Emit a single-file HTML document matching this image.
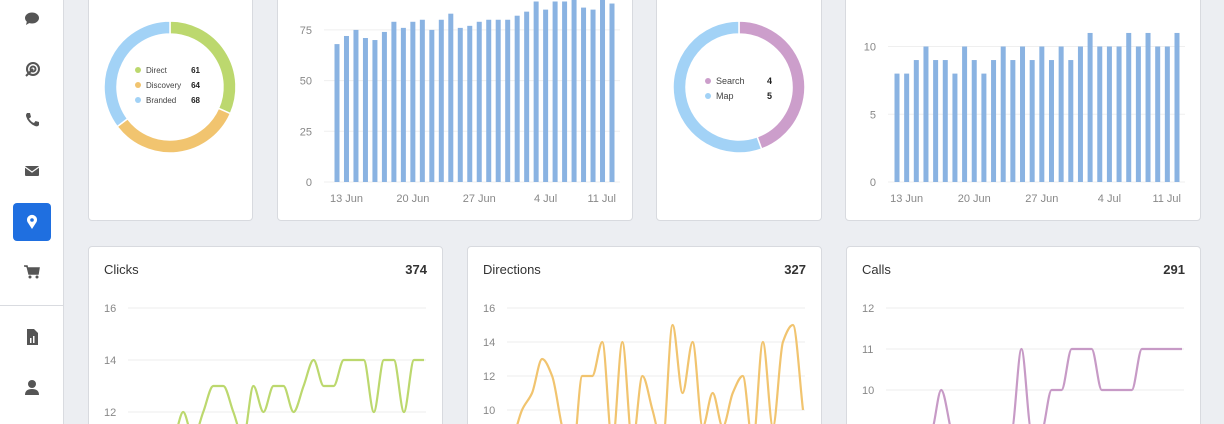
<!DOCTYPE html>
<html><head><meta charset="utf-8">
<style>
html,body{margin:0;padding:0;width:1224px;height:424px;overflow:hidden}
body{background:#eceef2;font-family:"Liberation Sans",sans-serif}
#wrap{position:relative;width:1224px;height:424px;overflow:hidden;background:#eceef2}
.side{position:absolute;left:0;top:0;width:63px;height:424px;background:#fff;border-right:1px solid #d9dbe0}
.card{position:absolute;background:#fff;border:1px solid #d8dadf;border-radius:4px;box-sizing:border-box}
.ico{position:absolute;left:22px;width:20px;height:20px}
svg{position:absolute;left:0;top:0}
</style></head><body>
<div id="wrap">
<div class="side">
  <svg class="ico" style="top:8px" viewBox="0 0 20 20"><ellipse cx="10" cy="10" rx="7" ry="5.5" fill="#555"/><path d="M5 13 L4 17 L9 14Z" fill="#555"/></svg>
  <svg class="ico" style="top:60px" viewBox="0 0 20 20"><circle cx="11" cy="9" r="6" fill="none" stroke="#555" stroke-width="2"/><circle cx="11" cy="9" r="2.5" fill="none" stroke="#555" stroke-width="2"/><path d="M11 9 L4 16" stroke="#555" stroke-width="2"/></svg>
  <svg class="ico" style="top:110px" viewBox="0 0 20 20"><path d="M5 3 L8 3 L9 7 L7 8.5 Q9 12 12 13 L13.5 11 L17 12 L17 15 Q16 17 13 16 Q6 13 4 6 Q4 4 5 3Z" fill="#555"/></svg>
  <svg class="ico" style="top:161px" viewBox="0 0 20 20"><rect x="3" y="5" width="14" height="10" rx="1" fill="#555"/><path d="M3 6 L10 11 L17 6" stroke="#fff" stroke-width="1.2" fill="none"/></svg>
  <div style="position:absolute;left:13px;top:203px;width:38px;height:38px;background:#1f6fe0;border-radius:4px"><svg style="left:11px;top:11px" width="16" height="16" viewBox="0 0 16 16"><path d="M8 15 L3.5 8 A5 5 0 1 1 12.5 8Z" fill="#fff"/><circle cx="8" cy="6" r="1.8" fill="#1f6fe0"/></svg></div>
  <svg class="ico" style="top:262px" viewBox="0 0 20 20"><path d="M2 4 L5 4 L7 12 L16 12 L17 6 L6 6" fill="#555" stroke="#555" stroke-width="1.5"/><circle cx="8" cy="15" r="1.5" fill="#555"/><circle cx="15" cy="15" r="1.5" fill="#555"/></svg>
  <div style="position:absolute;left:0;top:305px;width:63px;height:1px;background:#d9dbe0"></div>
  <svg class="ico" style="top:327px" viewBox="0 0 20 20"><path d="M5 2 L12 2 L16 6 L16 18 L5 18Z" fill="#555"/><rect x="8" y="11" width="1.5" height="5" fill="#fff"/><rect x="11" y="9" width="1.5" height="7" fill="#fff"/></svg>
  <svg class="ico" style="top:377px" viewBox="0 0 20 20"><circle cx="10" cy="7" r="4" fill="#555"/><path d="M3 18 Q3 12 10 12 Q17 12 17 18Z" fill="#555"/></svg>
</div>
<div class="card" style="left:88px;top:-6px;width:165px;height:227px"></div>
<div class="card" style="left:277px;top:-6px;width:356px;height:227px"></div>
<div class="card" style="left:656px;top:-6px;width:166px;height:227px"></div>
<div class="card" style="left:845px;top:-6px;width:356px;height:227px"></div>
<div class="card" style="left:88px;top:246px;width:355px;height:190px"></div>
<div class="card" style="left:467px;top:246px;width:355px;height:190px"></div>
<div class="card" style="left:846px;top:246px;width:355px;height:190px"></div>
<svg id="c" width="1224" height="424"></svg>
</div>
<script>
const donut1Labels=["Direct","Discovery","Branded"];
const donut1Values=[61,64,68];
const donut2Labels=["Search","Map"];
const donut2Values=[4,5];
const barDates=["12 Jun","13 Jun","14 Jun","15 Jun","16 Jun","17 Jun","18 Jun","19 Jun","20 Jun","21 Jun","22 Jun","23 Jun","24 Jun","25 Jun","26 Jun","27 Jun","28 Jun","29 Jun","30 Jun","1 Jul","2 Jul","3 Jul","4 Jul","5 Jul","6 Jul","7 Jul","8 Jul","9 Jul","10 Jul","11 Jul"];
const barTickLabels=["13 Jun","20 Jun","27 Jun","4 Jul","11 Jul"];
const bar1Values=[68,72,75,71,70,74,79,76,79,80,75,80,83,76,77,79,80,80,80,82,84,89,85,89,89,90,86,85,90,88];
const bar1Ticks=[0,25,50,75];
const bar2Values=[8,8,9,10,9,9,8,10,9,8,9,10,9,10,9,10,9,10,9,10,11,10,10,10,11,10,11,10,10,11];
const bar2Ticks=[0,5,10];
const clicksValues=[10,11,10,11,11,12,11,12,13,13,12,11,13,12,13,13,12,13,14,13,13,14,14,14,12,14,14,12,14,14];
const clicksTicks=[12,14,16];
const directionsValues=[8,10,11,13,12,9,7,12,12,14,8,14,8,12,10,8,15,11,14,9,11,9,11,12,8,14,9,14,15,10];
const directionsTicks=[10,12,14,16];
const callsValues=[9,8,9,9,9,10,9,8,9,9,8,9,9,11,9,9,10,10,11,11,11,10,10,10,10,11,11,11,11,11];
const callsTicks=[10,11,12];

const svg=document.getElementById('c');
const NS='http://www.w3.org/2000/svg';
function mk(tag,attrs,parent){const e=document.createElementNS(NS,tag);for(const k in attrs)e.setAttribute(k,attrs[k]);(parent||svg).appendChild(e);return e;}
function txt(x,y,s,attrs){const e=mk('text',Object.assign({x:x,y:y,'font-family':'Liberation Sans, sans-serif'},attrs));e.textContent=s;return e;}

function donut(cx,cy,labels,values,colors,lx,ly,vx,nm){
  const tot=values.reduce((a,b)=>a+b,0);let a0=-Math.PI/2;const R=66,r=53;
  values.forEach((v,i)=>{const a1=a0+v/tot*2*Math.PI;const big=(a1-a0)>Math.PI?1:0;
    const p=`M${cx+R*Math.cos(a0)} ${cy+R*Math.sin(a0)} A${R} ${R} 0 ${big} 1 ${cx+R*Math.cos(a1)} ${cy+R*Math.sin(a1)} L${cx+r*Math.cos(a1)} ${cy+r*Math.sin(a1)} A${r} ${r} 0 ${big} 0 ${cx+r*Math.cos(a0)} ${cy+r*Math.sin(a0)}Z`;
    const s=mk('path',{d:p,fill:colors[i],stroke:'#fff','stroke-width':1.5});
    
    
    a0=a1;});
  labels.forEach((l,i)=>{const y=ly+i*lx.sp;
    const d=mk('circle',{cx:lx.x,cy:y-3,r:3,fill:colors[i]});
    
    
    const t=txt(lx.x+8,y,l,{'font-size':lx.fs,fill:'#444'});
    
    
    const t2=txt(vx,y,String(values[i]),{'font-size':lx.fs,fill:'#222','font-weight':'bold','text-anchor':'end'});
    
    });
}
donut(170,87,donut1Labels,donut1Values,['#bcd86e','#f1c46f','#a2d2f6'],{x:138,sp:15,fs:8},73,200,'traffic-donut');
donut(739,87,donut2Labels,donut2Values,['#cc9ecb','#a2d2f6'],{x:708,sp:15,fs:9},84,772,'platform-donut');

function barChart(x0,x1,y0,pxPer,values,ticks,lblX,nm){
  const n=values.length,dx=(x1-x0)/(n-1);
  const ys=v=>y0-v*pxPer;
  ticks.forEach(t=>{const g=mk('line',{x1:lblX+12,x2:x1+8,y1:ys(t),y2:ys(t),stroke:'#efefef'});
    
    const l=txt(lblX,ys(t)+4,String(t),{'font-size':11,fill:'#888','text-anchor':'end'});
    });
  values.forEach((v,i)=>{const b=mk('rect',{x:x0+i*dx-2.5,y:ys(v),width:5,height:v*pxPer,fill:'#8ab3e2'});
    });
  barTickLabels.forEach((lab,k)=>{const i=barDates.indexOf(lab);let x=x0+i*dx,anc='middle';
    if(k===barTickLabels.length-1){x=x1+4;anc='end';}
    const t=txt(x,y0+20,lab,{'font-size':11,fill:'#888','text-anchor':anc});
    });
}
barChart(337,612,182,50.7/25,bar1Values,bar1Ticks,312,'views-bar');
barChart(897,1177,182,13.55,bar2Values,bar2Ticks,876,'actions-bar');

function monotone(pts){
  const n=pts.length,m=[],d=[];
  for(let i=0;i<n-1;i++)d.push((pts[i+1][1]-pts[i][1])/(pts[i+1][0]-pts[i][0]));
  m[0]=d[0];m[n-1]=d[n-2];
  for(let i=1;i<n-1;i++){m[i]=(d[i-1]*d[i]<=0)?0:(2/(1/d[i-1]+1/d[i]));}
  let p=`M${pts[0][0]} ${pts[0][1]}`;
  for(let i=0;i<n-1;i++){const h=(pts[i+1][0]-pts[i][0])/3;
    p+=` C${pts[i][0]+h} ${pts[i][1]+m[i]*h} ${pts[i+1][0]-h} ${pts[i+1][1]-m[i+1]*h} ${pts[i+1][0]} ${pts[i+1][1]}`;}
  return p;
}
function lineChart(cx,title,total,values,ticks,yTop,pxPer,color,nm){
  const x0=cx+45,x1=cx+336,topV=ticks[ticks.length-1];
  const ys=v=>yTop+(topV-v)*pxPer;
  const t=txt(cx+16,274,title,{'font-size':13,fill:'#333'});
  
  const tt=txt(cx+339,274,total,{'font-size':13,fill:'#333','font-weight':'bold','text-anchor':'end'});
  
  ticks.forEach(v=>{const g=mk('line',{x1:x0-5,x2:x1+2,y1:ys(v),y2:ys(v),stroke:'#eeeeee'});
    
    const l=txt(cx+16,ys(v)+4,String(v),{'font-size':11,fill:'#888'});
    });
  const dx=(x1-x0)/(values.length-1);
  const pts=values.map((v,i)=>[x0+i*dx,ys(v)]);
  const p=mk('path',{d:monotone(pts),fill:'none',stroke:color,'stroke-width':2.2});
  
}
lineChart(88,'Clicks','374',clicksValues,clicksTicks,308,26,'#bcd86e','clicks');
lineChart(467,'Directions','327',directionsValues,directionsTicks,308,17,'#f1c46f','directions');
lineChart(846,'Calls','291',callsValues,callsTicks,308,41,'#c79ac6','calls');
</script>
</body></html>
